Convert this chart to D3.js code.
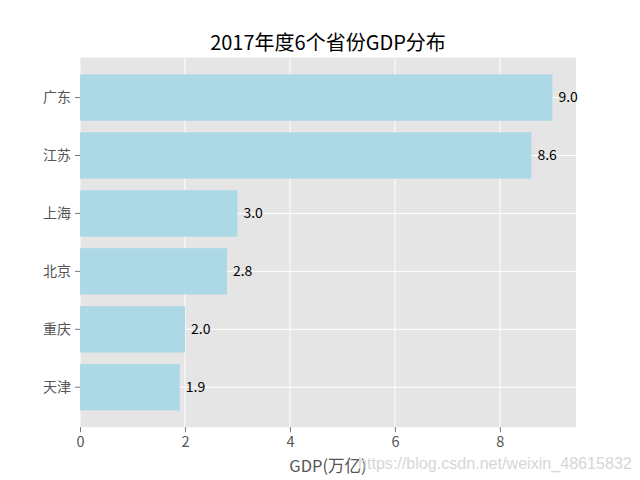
<!DOCTYPE html>
<html><head><meta charset="utf-8">
<script src="https://cdn.jsdelivr.net/npm/d3@7"></script>
<style>body{margin:0;background:#fff}svg{display:block}</style>
</head><body>
<svg id="c" width="640" height="480"></svg>
<script>
const provinces = ["天津","重庆","北京","上海","江苏","广东"];
const gdp = [1.9, 2.0, 2.8, 3.0, 8.6, 9.0];
const xTicks = [0, 2, 4, 6, 8];
const title = "2017年度6个省份GDP分布";
const xLabel = "GDP(万亿)";

(function () {
const pL = 80, pR = 576, pT = 57.6, pB = 427.2;
const font = "'Noto Sans CJK SC','Noto Sans',sans-serif";
const svg = d3.select("#c");

const x = d3.scaleLinear().domain([0, 9.45]).range([pL, pR]);
const yLin = d3.scaleLinear().domain([-0.4 - 0.29, 5.4 + 0.29]).range([pB, pT]);

svg.append("rect").attr("x", pL).attr("y", pT).attr("width", pR - pL).attr("height", pB - pT).attr("fill", "#E5E5E5");

svg.append("g").selectAll("line").data(xTicks).join("line")
  .attr("x1", d => x(d)).attr("x2", d => x(d)).attr("y1", pT).attr("y2", pB)
  .attr("stroke", "#fff").attr("stroke-width", 1);
svg.append("g").selectAll("line").data(provinces).join("line")
  .attr("x1", pL).attr("x2", pR).attr("y1", (d, i) => yLin(i)).attr("y2", (d, i) => yLin(i))
  .attr("stroke", "#fff").attr("stroke-width", 1);

svg.append("g").selectAll("rect").data(gdp).join("rect")
  .attr("x", x(0)).attr("y", (d, i) => yLin(i + 0.4))
  .attr("width", d => x(d) - x(0))
  .attr("height", (d, i) => yLin(i - 0.4) - yLin(i + 0.4))
  .attr("fill", "#ADD8E6");

svg.append("g").selectAll("text").data(gdp).join("text")
  .attr("x", d => x(d) + 6).attr("y", (d, i) => yLin(i))
  .attr("dy", "0.35em")
  .attr("font-family", font).attr("font-size", 14).attr("fill", "#000")
  .text(d => d.toFixed(1));

const xa = svg.append("g").attr("transform", `translate(0,${pB})`)
  .call(d3.axisBottom(x).tickValues(xTicks).tickSize(5).tickPadding(5).tickFormat(d3.format("d")));
xa.select(".domain").remove();
xa.selectAll("line").attr("stroke", "#555").attr("stroke-width", 0.8);
xa.selectAll("text").attr("font-family", font).attr("font-size", 14.5).attr("fill", "#555");

const ya = svg.append("g").attr("transform", `translate(${pL},0)`);
ya.selectAll("line").data(provinces).join("line")
  .attr("x1", -5).attr("x2", 0).attr("y1", (d, i) => yLin(i)).attr("y2", (d, i) => yLin(i))
  .attr("stroke", "#555").attr("stroke-width", 0.8);
ya.selectAll("text").data(provinces).join("text")
  .attr("x", -9).attr("y", (d, i) => yLin(i)).attr("dy", "0.35em")
  .attr("text-anchor", "end")
  .attr("font-family", font).attr("font-size", 14).attr("fill", "#555")
  .text(d => d);

svg.append("text").attr("x", (pL + pR) / 2).attr("y", 50)
  .attr("text-anchor", "middle").attr("font-family", font).attr("font-size", 20).attr("fill", "#000")
  .text(title);

svg.append("text").attr("x", (pL + pR) / 2).attr("y", 472)
  .attr("text-anchor", "middle").attr("font-family", font).attr("font-size", 16.5).attr("fill", "#555")
  .text(xLabel);

svg.append("text").attr("x", 358).attr("y", 469)
  .attr("font-family", "'Liberation Sans',Arial,sans-serif").attr("font-size", 16.1).attr("fill", "#d6d6d6")
  .text("https://blog.csdn.net/weixin_48615832");
})();
</script>
</body></html>
